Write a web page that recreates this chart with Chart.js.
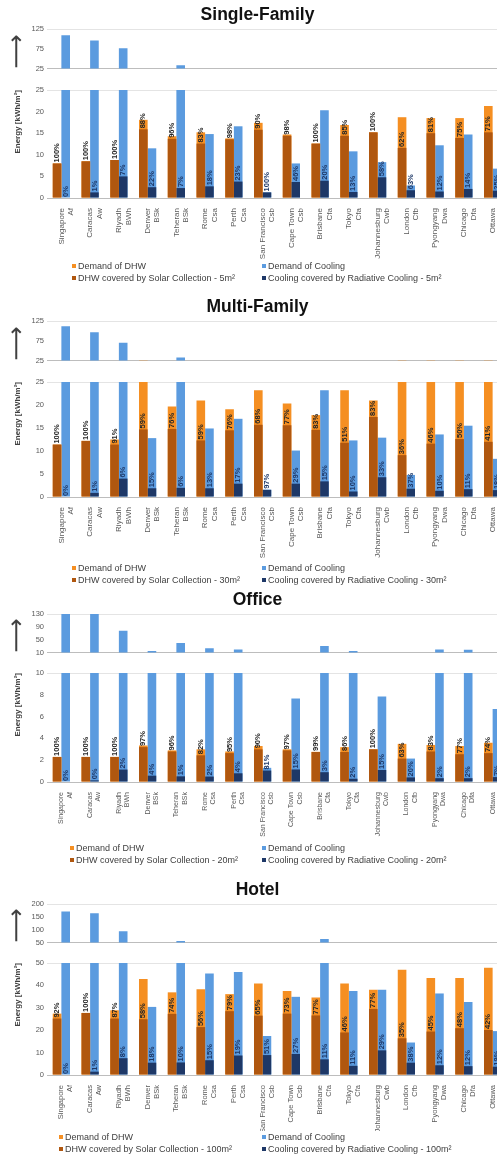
<!DOCTYPE html>
<html>
<head>
<meta charset="utf-8">
<script src="https://cdn.jsdelivr.net/npm/chart.js@4/dist/chart.umd.min.js"></script>
<style>
html, body { margin: 0; padding: 0; background: #fff; }
body { width: 497px; height: 1156px; overflow: hidden; position: relative; }
canvas { position: absolute; left: 0; }
.legend { position: absolute; font: 9px "Liberation Sans", Arial, sans-serif; color: #404040; line-height: 12px; white-space: nowrap; }
.legend div { position: absolute; }
.legend i { display: inline-block; width: 4px; height: 4px; margin-right: 2px; vertical-align: middle; position: relative; top: -1px; }
</style>
</head>
<body>
<script>
Chart.defaults.font.family = '"Liberation Sans", Arial, sans-serif'
Chart.defaults.color = '#595959'

const W = 515  // the original figure is a bit wider than the window (Ottawa is cut)

const cities = [
	['Singapore', 'Af'], ['Caracas', 'Aw'], ['Riyadh', 'BWh'], ['Denver', 'BSk'],
	['Teheran', 'BSk'], ['Rome', 'Csa'], ['Perth', 'Csa'], ['San Francisco', 'Csb'],
	['Cape Town', 'Csb'], ['Brisbane', 'Cfa'], ['Tokyo', 'Cfa'], ['Johannesburg', 'Cwb'],
	['London', 'Cfb'], ['Pyongyang', 'Dwa'], ['Chicago', 'Dfa'], ['Ottawa', 'Dfb']
]

// Single-Family, 5 m²
const sfDhwDemand  = [8.0, 8.5, 8.8, 18.1, 14.3, 15.2, 13.8, 17.4, 14.7, 12.6, 16.9, 15.2, 18.7, 18.5, 18.5, 21.3]
const sfDhwCovered = [8.0, 8.5, 8.8, 15.9, 13.7, 12.6, 13.6, 15.8, 14.4, 12.6, 14.4, 15.2, 11.6, 15.0, 13.9, 15.2]
const sfDhwPct     = [100, 100, 100, 88, 96, 83, 98, 90, 98, 100, 85, 100, 62, 81, 75, 71]
const sfCoolDemand  = [109, 96, 76, 11.5, 33, 14.8, 16.6, 1.3, 8.0, 20.3, 10.8, 8.3, 2.9, 12.2, 14.7, 6.8]
const sfCoolCovered = [0, 1.3, 5.0, 2.5, 2.3, 2.7, 3.8, 1.3, 3.7, 4.0, 1.4, 4.8, 1.8, 1.5, 2.1, 1.7]
const sfCoolPct     = [0, 1, 7, 22, 7, 18, 23, 100, 46, 20, 13, 58, 63, 12, 14, 25]

// Multi-Family, 30 m²
const mfDhwDemand  = [11.4, 12.2, 12.5, 25.0, 19.7, 21.0, 19.1, 23.2, 20.3, 17.8, 23.2, 21.0, 25.0, 25.0, 25.0, 25.0]
const mfDhwCovered = [11.4, 12.2, 11.4, 14.7, 14.8, 12.3, 14.5, 15.7, 15.6, 14.6, 11.8, 17.4, 9.1, 11.6, 12.6, 12.0]
const mfDhwPct     = [100, 100, 91, 59, 76, 59, 76, 68, 77, 83, 51, 83, 36, 46, 50, 41]
const mfCoolDemand  = [112, 96.5, 70, 12.8, 32.6, 14.9, 17.0, 1.6, 10.1, 23.2, 12.3, 12.9, 4.8, 13.6, 15.5, 8.3]
const mfCoolCovered = [0, 0.9, 4.0, 1.9, 2.0, 1.9, 2.9, 1.55, 2.9, 3.4, 1.2, 4.3, 1.8, 1.35, 1.7, 1.5]
const mfCoolPct     = [0, 1, 6, 15, 6, 13, 17, 97, 29, 15, 10, 33, 37, 10, 11, 18]

// Office, 20 m²
const ofDhwDemand  = [2.3, 2.3, 2.3, 3.35, 2.9, 3.0, 2.8, 3.3, 3.0, 2.77, 3.2, 3.0, 3.5, 3.4, 3.3, 3.6]
const ofDhwCovered = [2.3, 2.3, 2.3, 3.2, 2.8, 2.45, 2.65, 3.0, 2.9, 2.75, 2.75, 3.0, 2.15, 2.8, 2.55, 2.65]
const ofDhwPct     = [100, 100, 100, 97, 96, 82, 95, 90, 97, 99, 86, 100, 63, 83, 77, 74]
const ofCoolDemand  = [130, 130, 78, 14.6, 39.5, 22.9, 19.2, 1.3, 7.66, 30.3, 14.6, 7.85, 2.15, 19.2, 18.3, 6.7]
const ofCoolCovered = [0, 0.15, 1.14, 0.58, 0.52, 0.5, 0.8, 1.05, 1.15, 0.9, 0.3, 1.1, 0.42, 0.35, 0.35, 0.45]
const ofCoolPct     = [0, 0, 2, 4, 1, 2, 4, 81, 15, 3, 2, 15, 20, 2, 2, 7]

// Hotel, 100 m²
const htDhwDemand  = [27.4, 27.7, 28.9, 42.9, 36.9, 38.3, 36.1, 40.8, 37.5, 34.6, 40.8, 38.1, 47.0, 43.3, 43.3, 47.9]
const htDhwCovered = [25.2, 27.7, 25.2, 24.9, 27.3, 21.4, 28.5, 26.5, 27.4, 26.6, 19.0, 29.5, 16.4, 19.4, 20.9, 20.1]
const htDhwPct     = [92, 100, 87, 58, 74, 56, 79, 65, 73, 77, 46, 77, 35, 45, 48, 42]
const htCoolDemand  = [170.7, 163.7, 94, 30.4, 55.9, 45.3, 46.0, 17.4, 34.9, 64, 37.5, 38.1, 14.5, 36.4, 32.6, 19.6]
const htCoolCovered = [0, 1.5, 7.5, 5.5, 5.6, 6.6, 8.7, 8.9, 9.4, 7.0, 4.1, 11.0, 5.5, 4.35, 3.95, 3.7]
const htCoolPct     = [0, 1, 8, 18, 10, 15, 19, 51, 27, 11, 11, 29, 38, 12, 12, 19]

const colDhw = '#F58F22', colDhwCov = '#B0570F', colCool = '#5B9BDF', colCoolCov = '#1E3867'

// y: [upper top, upper bottom, lower top, lower bottom, legend top] in page pixels
const panels = [
	{title: 'Single-Family', area: '5m²', upper: [25, 125, 25], lower: [25, 5],
		y: [29, 73, 90, 198, 260], legendLeft: 72, xFont: 8,
		dhw: sfDhwDemand, dhwCov: sfDhwCovered, dhwPct: sfDhwPct, cool: sfCoolDemand, coolCov: sfCoolCovered, coolPct: sfCoolPct},
	{title: 'Multi-Family', area: '30m²', upper: [25, 125, 25], lower: [25, 5],
		y: [321, 365, 382, 497, 562], legendLeft: 72, xFont: 8,
		dhw: mfDhwDemand, dhwCov: mfDhwCovered, dhwPct: mfDhwPct, cool: mfCoolDemand, coolCov: mfCoolCovered, coolPct: mfCoolPct},
	{title: 'Office', area: '20m²', upper: [10, 130, 40], lower: [10, 2],
		y: [614, 657, 673, 782, 842], legendLeft: 70, xFont: 7,
		dhw: ofDhwDemand, dhwCov: ofDhwCovered, dhwPct: ofDhwPct, cool: ofCoolDemand, coolCov: ofCoolCovered, coolPct: ofCoolPct},
	{title: 'Hotel', area: '100m²', upper: [50, 200, 50], lower: [50, 5],
		y: [904, 947, 963, 1075, 1131], legendLeft: 59, xFont: 7.5,
		dhw: htDhwDemand, dhwCov: htDhwCovered, dhwPct: htDhwPct, cool: htCoolDemand, coolCov: htCoolCovered, coolPct: htCoolPct},
]

// rotated percentage labels on top of the "covered" bars
const pctLabels = {
	id: 'pctLabels',
	afterDatasetsDraw(chart) {
		const ctx = chart.ctx
		chart.data.datasets.forEach((ds, i) => {
			if (!ds.pct) return
			chart.getDatasetMeta(i).data.forEach((bar, j) => {
				ctx.save()
				ctx.translate(bar.x, bar.y - 1)
				ctx.rotate(-Math.PI / 2)
				ctx.font = 'bold 7.5px "Liberation Sans", Arial'
				ctx.fillStyle = ds.pctColor
				ctx.textAlign = 'left'
				ctx.textBaseline = 'middle'
				ctx.fillText(ds.pct[j] + '%', 0, 0)
				ctx.restore()
			})
		})
	}
}

function makeDatasets(p, withPct) {
	const common = {clip: 0, barPercentage: 1, categoryPercentage: 0.6}
	return [
		{...common, label: 'DHW covered by Solar Collection - ' + p.area, data: p.dhwCov, backgroundColor: colDhwCov, stack: 'dhw',
			pct: withPct ? p.dhwPct : null, pctColor: '#262626'},
		{...common, label: 'Cooling covered by Radiative Cooling - ' + p.area, data: p.coolCov, backgroundColor: colCoolCov, stack: 'cool',
			pct: withPct ? p.coolPct : null, pctColor: '#1E3867'},
		{...common, label: 'Demand of DHW', data: p.dhw, backgroundColor: colDhw, stack: 'dhw'},
		{...common, label: 'Demand of Cooling', data: p.cool, backgroundColor: colCool, stack: 'cool'},
	]
}

const gridTop = max => ({drawTicks: false, color: c => (c.tick && c.tick.value === max) ? '#e4e4e4' : 'rgba(0,0,0,0)'})

function addCanvas(top, h) {
	const cv = document.createElement('canvas')
	cv.width = W
	cv.height = h
	cv.style.top = top + 'px'
	document.body.appendChild(cv)
	return cv
}

panels.forEach(p => {
	const [uTop, uBot, lTop, lBot, legTop] = p.y

	// upper part of the broken axis
	const cu = addCanvas(uTop - 29, uBot - uTop + 29 + 3)
	new Chart(cu, {
		type: 'bar',
		data: {labels: cities, datasets: makeDatasets(p, false)},
		options: {
			responsive: false, animation: false,
			layout: {padding: {left: 8, right: 8, top: 0, bottom: 3}},
			plugins: {
				legend: {display: false}, tooltip: {enabled: false},
				title: {display: true, text: p.title, color: '#111', padding: {top: 5, bottom: 3},
					font: {size: 17.5, weight: 'bold'}},
			},
			scales: {
				x: {grid: {display: false}, ticks: {display: false}, border: {color: '#bdbdbd'},
					afterFit: s => { s.height = 0 }},
				y: {stacked: false, min: p.upper[0], max: p.upper[1],
					ticks: {stepSize: p.upper[2], font: {size: 7.5}, padding: 3},
					grid: gridTop(p.upper[1]), border: {display: false},
					title: {display: true, text: '⟶', align: 'start', color: '#404040', padding: 0,
						font: {size: 24, lineHeight: 0.8, family: 'DejaVu Sans'}},
					afterFit: s => { s.width = 39 }},
			}
		}
	})

	// lower part with the city labels; extra bottom room so long labels are not cut
	const xlH = legTop - lBot
	const extra = 20
	const cl = addCanvas(lTop - 10, lBot - lTop + 10 + xlH + extra)
	const lowerChart = new Chart(cl, {
		type: 'bar',
		data: {labels: cities, datasets: makeDatasets(p, true)},
		plugins: [pctLabels],
		options: {
			responsive: false, animation: false,
			layout: {padding: {left: 10, right: 8, top: 10, bottom: extra}},
			plugins: {legend: {display: false}, tooltip: {enabled: false}},
			scales: {
				x: {grid: {display: false}, border: {color: '#bdbdbd'},
					ticks: {autoSkip: false, minRotation: 90, maxRotation: 90, padding: 2, font: {size: p.xFont}},
					afterFit: s => { s.height = xlH }},
				y: {stacked: false, min: 0, max: p.lower[0],
					ticks: {stepSize: p.lower[1], font: {size: 7.5}, padding: 3},
					grid: gridTop(p.lower[0]), border: {display: false},
					title: {display: true, text: 'Energy [kWh/m²]', align: 'end', color: '#404040',
						padding: {top: 3, bottom: 0}, font: {size: 8, weight: 'bold'}},
					afterFit: s => { s.width = 37 }},
			}
		}
	})

	// two-column legend built from the chart's datasets
	const leg = document.createElement('div')
	leg.className = 'legend'
	leg.style.top = legTop + 'px'
	leg.style.left = '0px'
	const ds = lowerChart.data.datasets
	const order = [2, 3, 0, 1]
	order.forEach((k, n) => {
		const item = document.createElement('div')
		item.style.left = (n % 2 ? 262 : p.legendLeft) + 'px'
		item.style.top = (n < 2 ? 0 : 12) + 'px'
		const sw = document.createElement('i')
		sw.style.background = ds[k].backgroundColor
		item.appendChild(sw)
		item.appendChild(document.createTextNode(ds[k].label))
		leg.appendChild(item)
	})
	document.body.appendChild(leg)
})
</script>
</body>
</html>
